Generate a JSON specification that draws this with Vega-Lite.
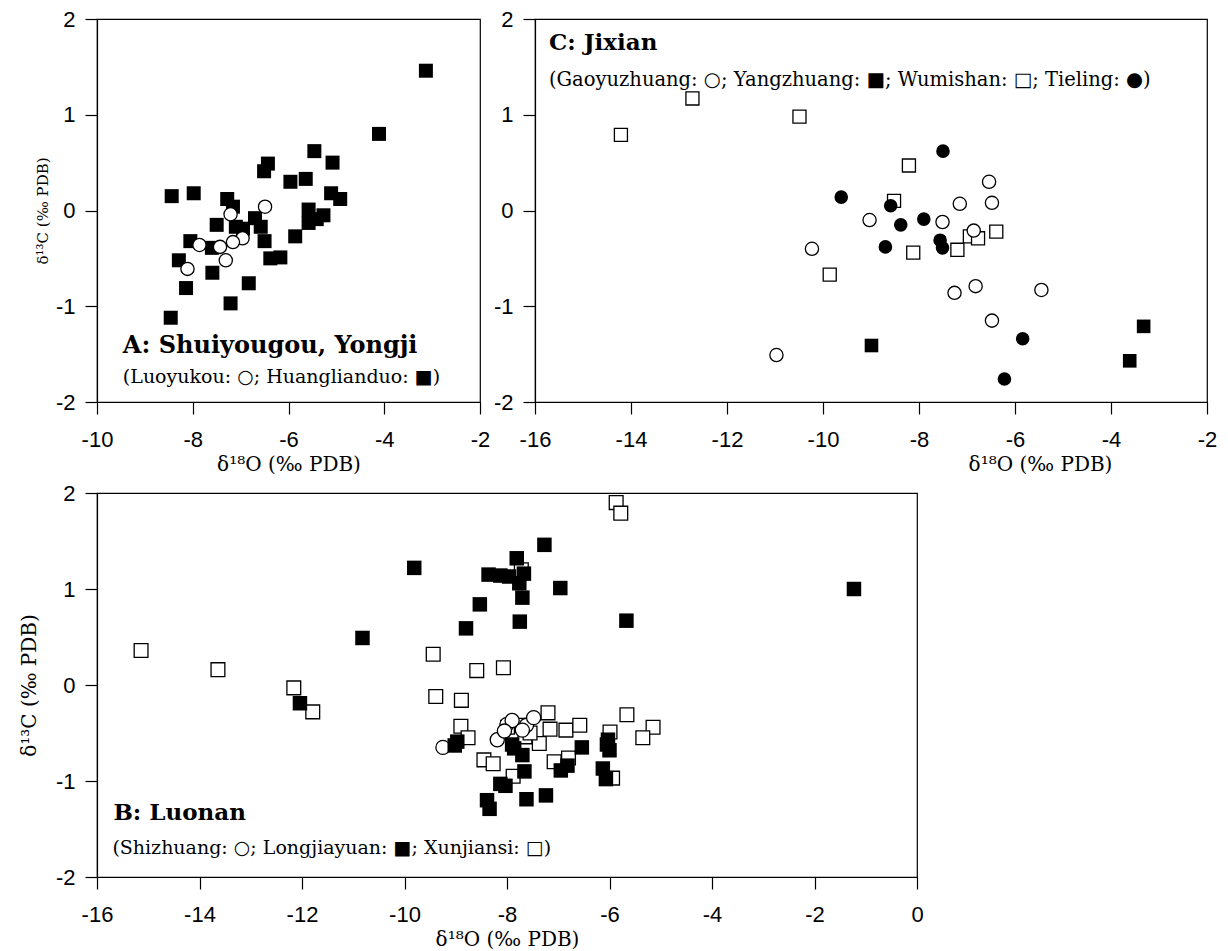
{
  "$schema": "https://vega.github.io/schema/vega-lite/v6.json",
  "background": "white",
  "padding": {"left": 18, "top": 7, "right": 5, "bottom": 5},
  "config": {
    "view": {"stroke": "black", "strokeWidth": 1.2},
    "axis": {"domainColor": "black", "domainWidth": 1.2, "tickColor": "black", "tickWidth": 1.2, "tickSize": 12, "labelColor": "black", "labelFont": "Liberation Sans", "labelFontSize": 22, "labelFlush": false, "labelOverlap": false, "grid": false, "titleColor": "black", "titleFont": "DejaVu Serif", "titleFontWeight": "normal", "titleFontSize": 20},
    "axisX": {"labelPadding": 15, "titlePadding": 4},
    "axisY": {"labelPadding": 10, "titlePadding": 16},
    "point": {"opacity": 1},
    "text": {"color": "black"}
  },
  "datasets": {
    "A": [
      {"site": "Huanglianduo", "d18O": -3.13, "d13C": 1.46},
      {"site": "Huanglianduo", "d18O": -4.11, "d13C": 0.80},
      {"site": "Huanglianduo", "d18O": -5.46, "d13C": 0.62},
      {"site": "Huanglianduo", "d18O": -5.08, "d13C": 0.50},
      {"site": "Huanglianduo", "d18O": -6.43, "d13C": 0.49},
      {"site": "Huanglianduo", "d18O": -6.51, "d13C": 0.41},
      {"site": "Huanglianduo", "d18O": -5.96, "d13C": 0.30},
      {"site": "Huanglianduo", "d18O": -5.64, "d13C": 0.33},
      {"site": "Huanglianduo", "d18O": -5.11, "d13C": 0.18},
      {"site": "Huanglianduo", "d18O": -4.92, "d13C": 0.12},
      {"site": "Huanglianduo", "d18O": -8.44, "d13C": 0.15},
      {"site": "Huanglianduo", "d18O": -7.98, "d13C": 0.18},
      {"site": "Huanglianduo", "d18O": -7.28, "d13C": 0.12},
      {"site": "Huanglianduo", "d18O": -7.16, "d13C": 0.04},
      {"site": "Huanglianduo", "d18O": -5.58, "d13C": 0.01},
      {"site": "Huanglianduo", "d18O": -5.27, "d13C": -0.05},
      {"site": "Huanglianduo", "d18O": -5.58, "d13C": -0.13},
      {"site": "Huanglianduo", "d18O": -5.41, "d13C": -0.09},
      {"site": "Huanglianduo", "d18O": -6.70, "d13C": -0.08},
      {"site": "Huanglianduo", "d18O": -7.50, "d13C": -0.15},
      {"site": "Huanglianduo", "d18O": -7.10, "d13C": -0.17},
      {"site": "Huanglianduo", "d18O": -6.95, "d13C": -0.19},
      {"site": "Huanglianduo", "d18O": -6.58, "d13C": -0.17},
      {"site": "Huanglianduo", "d18O": -5.86, "d13C": -0.27},
      {"site": "Huanglianduo", "d18O": -6.50, "d13C": -0.32},
      {"site": "Huanglianduo", "d18O": -8.05, "d13C": -0.32},
      {"site": "Huanglianduo", "d18O": -7.60, "d13C": -0.39},
      {"site": "Huanglianduo", "d18O": -6.38, "d13C": -0.50},
      {"site": "Huanglianduo", "d18O": -6.17, "d13C": -0.49},
      {"site": "Huanglianduo", "d18O": -8.29, "d13C": -0.52},
      {"site": "Huanglianduo", "d18O": -7.59, "d13C": -0.65},
      {"site": "Huanglianduo", "d18O": -6.83, "d13C": -0.76},
      {"site": "Huanglianduo", "d18O": -8.14, "d13C": -0.81},
      {"site": "Huanglianduo", "d18O": -7.21, "d13C": -0.97},
      {"site": "Huanglianduo", "d18O": -8.46, "d13C": -1.12},
      {"site": "Luoyukou", "d18O": -6.49, "d13C": 0.04},
      {"site": "Luoyukou", "d18O": -7.21, "d13C": -0.04},
      {"site": "Luoyukou", "d18O": -6.96, "d13C": -0.29},
      {"site": "Luoyukou", "d18O": -7.16, "d13C": -0.33},
      {"site": "Luoyukou", "d18O": -7.43, "d13C": -0.38},
      {"site": "Luoyukou", "d18O": -7.86, "d13C": -0.36},
      {"site": "Luoyukou", "d18O": -7.31, "d13C": -0.52},
      {"site": "Luoyukou", "d18O": -8.11, "d13C": -0.61}
    ],
    "C": [
      {"site": "Gaoyuzhuang", "d18O": -10.97, "d13C": -1.51},
      {"site": "Gaoyuzhuang", "d18O": -10.23, "d13C": -0.40},
      {"site": "Gaoyuzhuang", "d18O": -9.03, "d13C": -0.10},
      {"site": "Gaoyuzhuang", "d18O": -7.51, "d13C": -0.12},
      {"site": "Gaoyuzhuang", "d18O": -7.15, "d13C": 0.07},
      {"site": "Gaoyuzhuang", "d18O": -6.54, "d13C": 0.30},
      {"site": "Gaoyuzhuang", "d18O": -6.48, "d13C": 0.08},
      {"site": "Gaoyuzhuang", "d18O": -6.86, "d13C": -0.21},
      {"site": "Gaoyuzhuang", "d18O": -7.26, "d13C": -0.86},
      {"site": "Gaoyuzhuang", "d18O": -6.82, "d13C": -0.79},
      {"site": "Gaoyuzhuang", "d18O": -5.45, "d13C": -0.83},
      {"site": "Gaoyuzhuang", "d18O": -6.48, "d13C": -1.15},
      {"site": "Yangzhuang", "d18O": -8.99, "d13C": -1.41},
      {"site": "Yangzhuang", "d18O": -3.61, "d13C": -1.57},
      {"site": "Yangzhuang", "d18O": -3.32, "d13C": -1.21},
      {"site": "Wumishan", "d18O": -14.21, "d13C": 0.79},
      {"site": "Wumishan", "d18O": -12.72, "d13C": 1.17},
      {"site": "Wumishan", "d18O": -10.49, "d13C": 0.98},
      {"site": "Wumishan", "d18O": -8.21, "d13C": 0.47},
      {"site": "Wumishan", "d18O": -8.52, "d13C": 0.10},
      {"site": "Wumishan", "d18O": -9.86, "d13C": -0.67},
      {"site": "Wumishan", "d18O": -8.12, "d13C": -0.44},
      {"site": "Wumishan", "d18O": -7.20, "d13C": -0.41},
      {"site": "Wumishan", "d18O": -6.94, "d13C": -0.27},
      {"site": "Wumishan", "d18O": -6.77, "d13C": -0.29},
      {"site": "Wumishan", "d18O": -6.39, "d13C": -0.22},
      {"site": "Tieling", "d18O": -7.50, "d13C": 0.62},
      {"site": "Tieling", "d18O": -9.62, "d13C": 0.14},
      {"site": "Tieling", "d18O": -8.59, "d13C": 0.05},
      {"site": "Tieling", "d18O": -8.38, "d13C": -0.15},
      {"site": "Tieling", "d18O": -7.90, "d13C": -0.09},
      {"site": "Tieling", "d18O": -8.70, "d13C": -0.38},
      {"site": "Tieling", "d18O": -7.56, "d13C": -0.31},
      {"site": "Tieling", "d18O": -7.51, "d13C": -0.39},
      {"site": "Tieling", "d18O": -5.84, "d13C": -1.34},
      {"site": "Tieling", "d18O": -6.22, "d13C": -1.76}
    ],
    "B": [
      {"site": "Xunjiansi", "d18O": -5.87, "d13C": 1.90},
      {"site": "Xunjiansi", "d18O": -5.78, "d13C": 1.79},
      {"site": "Xunjiansi", "d18O": -15.14, "d13C": 0.36},
      {"site": "Xunjiansi", "d18O": -13.64, "d13C": 0.16},
      {"site": "Xunjiansi", "d18O": -12.16, "d13C": -0.03},
      {"site": "Xunjiansi", "d18O": -11.79, "d13C": -0.28},
      {"site": "Xunjiansi", "d18O": -7.72, "d13C": 1.20},
      {"site": "Xunjiansi", "d18O": -9.44, "d13C": 0.32},
      {"site": "Xunjiansi", "d18O": -8.59, "d13C": 0.15},
      {"site": "Xunjiansi", "d18O": -8.07, "d13C": 0.18},
      {"site": "Xunjiansi", "d18O": -9.39, "d13C": -0.12},
      {"site": "Xunjiansi", "d18O": -8.89, "d13C": -0.16},
      {"site": "Xunjiansi", "d18O": -8.90, "d13C": -0.43},
      {"site": "Xunjiansi", "d18O": -8.76, "d13C": -0.55},
      {"site": "Xunjiansi", "d18O": -8.45, "d13C": -0.78},
      {"site": "Xunjiansi", "d18O": -8.27, "d13C": -0.82},
      {"site": "Xunjiansi", "d18O": -7.88, "d13C": -0.95},
      {"site": "Xunjiansi", "d18O": -7.20, "d13C": -0.29},
      {"site": "Xunjiansi", "d18O": -7.16, "d13C": -0.46},
      {"site": "Xunjiansi", "d18O": -6.85, "d13C": -0.47},
      {"site": "Xunjiansi", "d18O": -6.58, "d13C": -0.42},
      {"site": "Xunjiansi", "d18O": -7.37, "d13C": -0.61},
      {"site": "Xunjiansi", "d18O": -7.08, "d13C": -0.80},
      {"site": "Xunjiansi", "d18O": -6.80, "d13C": -0.76},
      {"site": "Xunjiansi", "d18O": -5.66, "d13C": -0.31},
      {"site": "Xunjiansi", "d18O": -5.15, "d13C": -0.44},
      {"site": "Xunjiansi", "d18O": -5.35, "d13C": -0.55},
      {"site": "Xunjiansi", "d18O": -5.99, "d13C": -0.49},
      {"site": "Xunjiansi", "d18O": -5.94, "d13C": -0.97},
      {"site": "Xunjiansi", "d18O": -7.65, "d13C": -0.54},
      {"site": "Xunjiansi", "d18O": -7.99, "d13C": -0.44},
      {"site": "Xunjiansi", "d18O": -7.55, "d13C": -0.50},
      {"site": "Xunjiansi", "d18O": -7.70, "d13C": -0.42},
      {"site": "Shizhuang", "d18O": -9.25, "d13C": -0.65},
      {"site": "Shizhuang", "d18O": -8.19, "d13C": -0.57},
      {"site": "Shizhuang", "d18O": -8.00, "d13C": -0.41},
      {"site": "Shizhuang", "d18O": -7.90, "d13C": -0.37},
      {"site": "Shizhuang", "d18O": -8.05, "d13C": -0.48},
      {"site": "Shizhuang", "d18O": -7.62, "d13C": -0.42},
      {"site": "Shizhuang", "d18O": -7.48, "d13C": -0.34},
      {"site": "Shizhuang", "d18O": -7.70, "d13C": -0.47},
      {"site": "Longjiayuan", "d18O": -9.81, "d13C": 1.22},
      {"site": "Longjiayuan", "d18O": -10.82, "d13C": 0.49},
      {"site": "Longjiayuan", "d18O": -12.04, "d13C": -0.19},
      {"site": "Longjiayuan", "d18O": -8.53, "d13C": 0.84},
      {"site": "Longjiayuan", "d18O": -8.80, "d13C": 0.59},
      {"site": "Longjiayuan", "d18O": -8.36, "d13C": 1.15},
      {"site": "Longjiayuan", "d18O": -8.13, "d13C": 1.14},
      {"site": "Longjiayuan", "d18O": -7.96, "d13C": 1.13},
      {"site": "Longjiayuan", "d18O": -7.81, "d13C": 1.32},
      {"site": "Longjiayuan", "d18O": -7.76, "d13C": 1.06},
      {"site": "Longjiayuan", "d18O": -7.67, "d13C": 1.16},
      {"site": "Longjiayuan", "d18O": -7.70, "d13C": 0.91},
      {"site": "Longjiayuan", "d18O": -7.75, "d13C": 0.66},
      {"site": "Longjiayuan", "d18O": -7.27, "d13C": 1.46},
      {"site": "Longjiayuan", "d18O": -6.96, "d13C": 1.01},
      {"site": "Longjiayuan", "d18O": -5.67, "d13C": 0.67},
      {"site": "Longjiayuan", "d18O": -1.23, "d13C": 1.00},
      {"site": "Longjiayuan", "d18O": -8.97, "d13C": -0.59},
      {"site": "Longjiayuan", "d18O": -9.02, "d13C": -0.63},
      {"site": "Longjiayuan", "d18O": -7.86, "d13C": -0.66},
      {"site": "Longjiayuan", "d18O": -7.70, "d13C": -0.73},
      {"site": "Longjiayuan", "d18O": -7.90, "d13C": -0.62},
      {"site": "Longjiayuan", "d18O": -6.54, "d13C": -0.65},
      {"site": "Longjiayuan", "d18O": -6.03, "d13C": -0.57},
      {"site": "Longjiayuan", "d18O": -6.00, "d13C": -0.68},
      {"site": "Longjiayuan", "d18O": -6.05, "d13C": -0.62},
      {"site": "Longjiayuan", "d18O": -6.13, "d13C": -0.87},
      {"site": "Longjiayuan", "d18O": -6.07, "d13C": -0.98},
      {"site": "Longjiayuan", "d18O": -6.95, "d13C": -0.89},
      {"site": "Longjiayuan", "d18O": -6.82, "d13C": -0.84},
      {"site": "Longjiayuan", "d18O": -7.66, "d13C": -0.90},
      {"site": "Longjiayuan", "d18O": -8.13, "d13C": -1.03},
      {"site": "Longjiayuan", "d18O": -8.03, "d13C": -1.05},
      {"site": "Longjiayuan", "d18O": -8.39, "d13C": -1.20},
      {"site": "Longjiayuan", "d18O": -8.34, "d13C": -1.29},
      {"site": "Longjiayuan", "d18O": -7.62, "d13C": -1.19},
      {"site": "Longjiayuan", "d18O": -7.24, "d13C": -1.15}
    ]
  },
  "vconcat": [
    {
      "hconcat": [
        {
          "width": 383,
          "height": 383,
          "layer": [
            {
              "data": {"name": "A"},
              "transform": [{"filter": "datum.site === 'Huanglianduo'"}],
              "mark": {"type": "point", "shape": "square", "filled": true, "color": "black", "size": 196, "opacity": 1},
              "encoding": {
                "x": {"field": "d18O", "type": "quantitative", "scale": {"domain": [-10, -2], "nice": false, "zero": false},
                  "axis": {"values": [-10, -8, -6, -4, -2], "title": "δ¹⁸O (‰ PDB)", "labelExpr": "datum.value < 0 ? '-' + abs(datum.value) : '' + datum.value"}},
                "y": {"field": "d13C", "type": "quantitative", "scale": {"domain": [-2, 2], "nice": false, "zero": false},
                  "axis": {"values": [-2, -1, 0, 1, 2], "title": "δ¹³C (‰ PDB)", "titleFontSize": 15, "titlePadding": 5, "labelExpr": "datum.value < 0 ? '-' + abs(datum.value) : '' + datum.value"}}
              }
            },
            {
              "data": {"name": "A"},
              "transform": [{"filter": "datum.site === 'Luoyukou'"}],
              "mark": {"type": "point", "shape": "circle", "filled": true, "fill": "white", "stroke": "black", "strokeWidth": 1.3, "size": 175, "opacity": 1},
              "encoding": {
                "x": {"field": "d18O", "type": "quantitative"},
                "y": {"field": "d13C", "type": "quantitative"}
              }
            },
            {
              "data": {"values": [{}]},
              "mark": {"type": "text", "align": "left", "baseline": "alphabetic", "font": "DejaVu Serif", "fontSize": 24, "fontWeight": "bold"},
              "encoding": {"x": {"datum": -9.46}, "y": {"datum": -1.49}, "text": {"value": "A: Shuiyougou, Yongji"}}
            },
            {
              "data": {"values": [{}]},
              "mark": {"type": "text", "align": "left", "baseline": "alphabetic", "font": "DejaVu Serif", "fontSize": 19},
              "encoding": {"x": {"datum": -9.46}, "y": {"datum": -1.8}, "text": {"value": "(Luoyukou: ○; Huanglianduo: ■)"}}
            }
          ]
        },
        {
          "width": 672,
          "height": 383,
          "layer": [
            {
              "data": {"name": "C"},
              "transform": [{"filter": "datum.site === 'Wumishan'"}],
              "mark": {"type": "point", "shape": "square", "filled": true, "fill": "white", "stroke": "black", "strokeWidth": 1.3, "size": 170, "opacity": 1},
              "encoding": {
                "x": {"field": "d18O", "type": "quantitative", "scale": {"domain": [-16, -2], "nice": false, "zero": false},
                  "axis": {"values": [-16, -14, -12, -10, -8, -6, -4, -2], "title": "δ¹⁸O (‰ PDB)", "titleX": 505, "labelExpr": "datum.value < 0 ? '-' + abs(datum.value) : '' + datum.value"}},
                "y": {"field": "d13C", "type": "quantitative", "scale": {"domain": [-2, 2], "nice": false, "zero": false},
                  "axis": {"values": [-2, -1, 0, 1, 2], "title": null, "labelExpr": "datum.value < 0 ? '-' + abs(datum.value) : '' + datum.value"}}
              }
            },
            {
              "data": {"name": "C"},
              "transform": [{"filter": "datum.site === 'Gaoyuzhuang'"}],
              "mark": {"type": "point", "shape": "circle", "filled": true, "fill": "white", "stroke": "black", "strokeWidth": 1.3, "size": 175, "opacity": 1},
              "encoding": {"x": {"field": "d18O", "type": "quantitative"}, "y": {"field": "d13C", "type": "quantitative"}}
            },
            {
              "data": {"name": "C"},
              "transform": [{"filter": "datum.site === 'Yangzhuang'"}],
              "mark": {"type": "point", "shape": "square", "filled": true, "color": "black", "size": 185, "opacity": 1},
              "encoding": {"x": {"field": "d18O", "type": "quantitative"}, "y": {"field": "d13C", "type": "quantitative"}}
            },
            {
              "data": {"name": "C"},
              "transform": [{"filter": "datum.site === 'Tieling'"}],
              "mark": {"type": "point", "shape": "circle", "filled": true, "color": "black", "size": 185, "opacity": 1},
              "encoding": {"x": {"field": "d18O", "type": "quantitative"}, "y": {"field": "d13C", "type": "quantitative"}}
            },
            {
              "data": {"values": [{}]},
              "mark": {"type": "text", "align": "left", "baseline": "alphabetic", "font": "DejaVu Serif", "fontSize": 23, "fontWeight": "bold"},
              "encoding": {"x": {"datum": -15.71}, "y": {"datum": 1.68}, "text": {"value": "C: Jixian"}}
            },
            {
              "data": {"values": [{}]},
              "mark": {"type": "text", "align": "left", "baseline": "alphabetic", "font": "DejaVu Serif", "fontSize": 19.5},
              "encoding": {"x": {"datum": -15.71}, "y": {"datum": 1.3}, "text": {"value": "(Gaoyuzhuang: ○; Yangzhuang: ■; Wumishan: □; Tieling: ●)"}}
            }
          ]
        }
      ],
      "spacing": 55,
      "bounds": "flush"
    },
    {
      "width": 820,
      "height": 384,
      "layer": [
        {
          "data": {"name": "B"},
          "transform": [{"filter": "datum.site === 'Xunjiansi'"}],
          "mark": {"type": "point", "shape": "square", "filled": true, "fill": "white", "stroke": "black", "strokeWidth": 1.3, "size": 190, "opacity": 1},
          "encoding": {
            "x": {"field": "d18O", "type": "quantitative", "scale": {"domain": [-16, 0], "nice": false, "zero": false},
              "axis": {"values": [-16, -14, -12, -10, -8, -6, -4, -2, 0], "title": "δ¹⁸O (‰ PDB)", "labelExpr": "datum.value < 0 ? '-' + abs(datum.value) : '' + datum.value"}},
            "y": {"field": "d13C", "type": "quantitative", "scale": {"domain": [-2, 2], "nice": false, "zero": false},
              "axis": {"values": [-2, -1, 0, 1, 2], "title": "δ¹³C (‰ PDB)", "titleFontSize": 20, "labelExpr": "datum.value < 0 ? '-' + abs(datum.value) : '' + datum.value"}}
          }
        },
        {
          "data": {"name": "B"},
          "transform": [{"filter": "datum.site === 'Shizhuang'"}],
          "mark": {"type": "point", "shape": "circle", "filled": true, "fill": "white", "stroke": "black", "strokeWidth": 1.3, "size": 200, "opacity": 1},
          "encoding": {"x": {"field": "d18O", "type": "quantitative"}, "y": {"field": "d13C", "type": "quantitative"}}
        },
        {
          "data": {"name": "B"},
          "transform": [{"filter": "datum.site === 'Longjiayuan'"}],
          "mark": {"type": "point", "shape": "square", "filled": true, "color": "black", "size": 210, "opacity": 1},
          "encoding": {"x": {"field": "d18O", "type": "quantitative"}, "y": {"field": "d13C", "type": "quantitative"}}
        },
        {
          "data": {"values": [{}]},
          "mark": {"type": "text", "align": "left", "baseline": "alphabetic", "font": "DejaVu Serif", "fontSize": 23, "fontWeight": "bold"},
          "encoding": {"x": {"datum": -15.68}, "y": {"datum": -1.41}, "text": {"value": "B: Luonan"}}
        },
        {
          "data": {"values": [{}]},
          "mark": {"type": "text", "align": "left", "baseline": "alphabetic", "font": "DejaVu Serif", "fontSize": 19},
          "encoding": {"x": {"datum": -15.7}, "y": {"datum": -1.76}, "text": {"value": "(Shizhuang: ○; Longjiayuan: ■; Xunjiansi: □)"}}
        }
      ]
    }
  ],
  "spacing": 6
}
